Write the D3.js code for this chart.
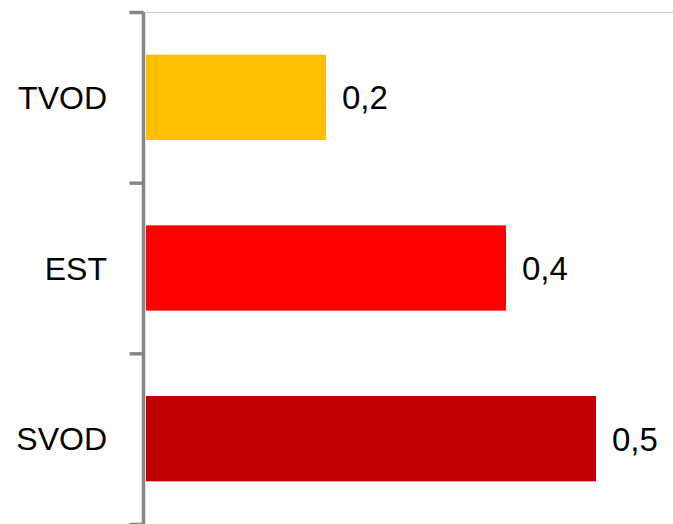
<!DOCTYPE html>
<html>
<head>
<meta charset="utf-8">
<script src="https://cdn.jsdelivr.net/npm/d3@7"></script>
<style>
  html, body { margin: 0; padding: 0; background: #fff; }
  svg { display: block; }
  text { font-family: "Liberation Sans", Arial, sans-serif; fill: #000; }
</style>
</head>
<body>
<svg id="chart" width="673" height="524"></svg>
<script>
// Categories, values and bar colours
const categories = ["TVOD", "EST", "SVOD"];
const values = [0.2, 0.4, 0.5];
const colors = ["#FFC000", "#FF0000", "#C00000"];
const valueLabels = ["0,2", "0,4", "0,5"];

const width = 673, height = 524;
const plot = { left: 146, top: 12, bottom: 524 };

const svg = d3.select("#chart");

const x = d3.scaleLinear().domain([0, 0.6]).range([plot.left, plot.left + 540]);
const y = d3.scaleBand().domain(categories).range([plot.top, plot.bottom])
  .paddingInner(0.5).paddingOuter(0.25);

// Top border of the plot area
svg.append("line")
  .attr("x1", plot.left).attr("x2", width)
  .attr("y1", plot.top + 0.5).attr("y2", plot.top + 0.5)
  .attr("stroke", "#c8c8c8").attr("stroke-width", 1);

// Bars
svg.selectAll("rect.bar")
  .data(categories)
  .join("rect")
  .attr("class", "bar")
  .attr("x", x(0))
  .attr("y", d => y(d))
  .attr("width", (d, i) => x(values[i]) - x(0))
  .attr("height", y.bandwidth())
  .attr("fill", (d, i) => colors[i]);

// Category axis with ticks between bands
const tickScale = d3.scaleLinear().domain([0, categories.length]).range([plot.top, plot.bottom]);
const axis = svg.append("g")
  .attr("transform", `translate(${plot.left - 2.5},0)`)
  .call(d3.axisLeft(tickScale).tickValues(d3.range(categories.length + 1))
    .tickSize(14).tickSizeOuter(0).tickFormat(""));
axis.selectAll("path, line").attr("stroke", "#868686").attr("stroke-width", 3.5);
axis.select("path.domain").attr("d", `M0,${plot.top}V${plot.bottom}`);

// Category labels
svg.selectAll("text.cat")
  .data(categories)
  .join("text")
  .attr("class", "cat")
  .attr("x", 107)
  .attr("y", d => y(d) + y.bandwidth() / 2)
  .attr("dy", "0.36em")
  .attr("text-anchor", "end")
  .attr("font-size", 32)
  .text(d => d);

// Value labels
svg.selectAll("text.val")
  .data(categories)
  .join("text")
  .attr("class", "val")
  .attr("x", (d, i) => x(values[i]) + 16)
  .attr("y", d => y(d) + y.bandwidth() / 2)
  .attr("dy", "0.36em")
  .attr("font-size", 33)
  .text((d, i) => valueLabels[i]);
</script>
</body>
</html>
